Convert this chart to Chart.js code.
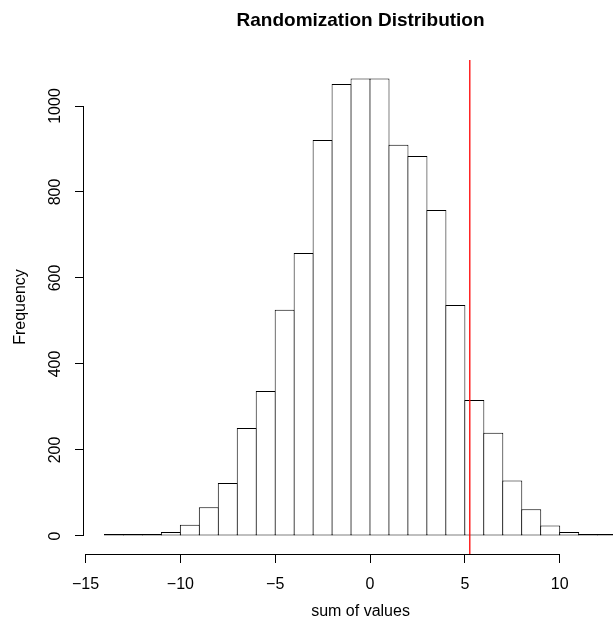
<!DOCTYPE html>
<html>
<head>
<meta charset="utf-8">
<script src="https://cdn.jsdelivr.net/npm/chart.js@4.4.0/dist/chart.umd.min.js"></script>
<style>
  html, body { margin: 0; padding: 0; background: #fff; }
  canvas { display: block; }
</style>
</head>
<body>
<canvas id="hist" width="613" height="629"></canvas>
<script>
// histogram bins (left edges, width 1) and their counts
const binStarts = [-14, -13, -12, -11, -10, -9, -8, -7, -6, -5, -4, -3, -2, -1, 0, 1, 2, 3, 4, 5, 6, 7, 8, 9, 10, 11, 12];
const counts = [1, 2, 3, 9, 26, 67, 123, 251, 337, 526, 658, 921, 1051, 1064, 1064, 910, 884, 758, 537, 316, 240, 129, 62, 24, 9, 2, 1];

const xTicks = [-15, -10, -5, 0, 5, 10];
const yTicks = [0, 200, 400, 600, 800, 1000];
const xLimits = [-15.08, 12.81];
const yLimits = [-42, 1107];
const xCenter = -0.5; // middle of the full R plot range
const observedSum = 5.26;

const titleText = "Randomization Distribution";
const xLabel = "sum of values";
const yLabel = "Frequency";

const FONT = '"Liberation Sans", Arial, Helvetica, sans-serif';
Chart.defaults.font.family = FONT;
Chart.defaults.font.size = 16;
Chart.defaults.color = "#000";

function minusSign(v) {
  return String(v).replace("-", "\u2212");
}

// R style: title, x label and axis lines that stop at the first/last tick
const rDecor = {
  id: "rDecor",
  afterDraw(chart) {
    const { ctx, chartArea } = chart;
    const x = chart.scales.x;
    const y = chart.scales.y;
    const cx = x.getPixelForValue(xCenter);

    ctx.save();
    ctx.strokeStyle = "#000";
    ctx.lineWidth = 1;
    ctx.beginPath();
    const yb = chartArea.bottom + 0.5;
    ctx.moveTo(x.getPixelForValue(xTicks[0]), yb);
    ctx.lineTo(x.getPixelForValue(xTicks[xTicks.length - 1]), yb);
    const xl = chartArea.left - 0.5;
    ctx.moveTo(xl, y.getPixelForValue(yTicks[0]));
    ctx.lineTo(xl, y.getPixelForValue(yTicks[yTicks.length - 1]));
    ctx.stroke();

    ctx.fillStyle = "#000";
    ctx.textAlign = "center";
    ctx.textBaseline = "middle";
    ctx.font = `bold 19px ${FONT}`;
    ctx.fillText(titleText, cx, 21);
    ctx.font = `16px ${FONT}`;
    ctx.fillText(xLabel, cx, 612);
    ctx.restore();
  },
};

new Chart(document.getElementById("hist"), {
  type: "bar",
  data: {
    datasets: [
      {
        type: "line",
        data: [
          { x: observedSum, y: yLimits[0] },
          { x: observedSum, y: yLimits[1] },
        ],
        borderColor: "#ff0000",
        borderWidth: 1.3,
        pointRadius: 0,
        fill: false,
        order: 0,
      },
      {
        type: "bar",
        data: binStarts.map((b, i) => ({ x: b + 0.5, y: counts[i] })),
        backgroundColor: "#fff",
        borderColor: "#000",
        borderWidth: 1,
        borderSkipped: false,
        barPercentage: 1 + 1 / 19,
        categoryPercentage: 1,
        inflateAmount: 0,
        minBarLength: 2,
        order: 1,
      },
    ],
  },
  options: {
    responsive: false,
    animation: false,
    devicePixelRatio: 1,
    layout: { padding: { top: 60, right: 0, bottom: 0, left: 0 } },
    plugins: {
      legend: { display: false },
      tooltip: { enabled: false },
      title: { display: false },
    },
    scales: {
      x: {
        type: "linear",
        min: xLimits[0],
        max: xLimits[1],
        offset: false,
        afterBuildTicks: (s) => {
          s.ticks = xTicks.map((v) => ({ value: v }));
        },
        afterFit: (s) => {
          s.height = 75;
        },
        border: { display: false },
        grid: { offset: false, drawOnChartArea: false, tickLength: 9, color: "#000", lineWidth: 1 },
        ticks: { padding: 12, maxRotation: 0, callback: (v) => minusSign(v), font: { size: 16 } },
      },
      y: {
        type: "linear",
        min: yLimits[0],
        max: yLimits[1],
        afterBuildTicks: (s) => {
          s.ticks = yTicks.map((v) => ({ value: v }));
        },
        afterFit: (s) => {
          s.width = 84;
        },
        border: { display: false },
        grid: { drawOnChartArea: false, tickLength: 9, color: "#000", lineWidth: 1 },
        ticks: { padding: 2, minRotation: 90, maxRotation: 90, crossAlign: "center", callback: (v) => String(v), font: { size: 16 } },
        title: { display: true, text: yLabel, font: { size: 16 }, padding: { top: 11, bottom: 0 } },
      },
    },
  },
  plugins: [rDecor],
});
</script>
</body>
</html>
